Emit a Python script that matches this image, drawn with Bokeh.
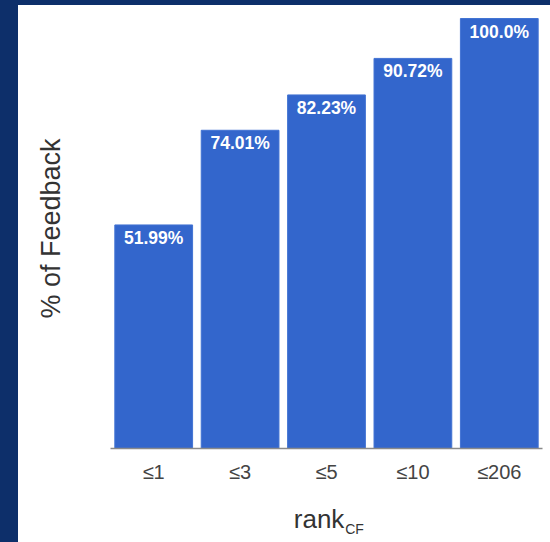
from bokeh.plotting import figure
from bokeh.models import FactorRange, Range1d, Spacer, ColumnDataSource, FixedTicker
from bokeh.layouts import row, column
from bokeh.embed import file_html
from bokeh.resources import INLINE
from bokeh.core.properties import value

categories = ["≤1", "≤3", "≤5", "≤10", "≤206"]
percent = [51.99, 74.01, 82.23, 90.72, 100.0]
bar_labels = ["51.99%", "74.01%", "82.23%", "90.72%", "100.0%"]

NAVY = "#0D2F6A"
BAR = "#3366CC"
FONT = "Liberation Sans"

src = ColumnDataSource(dict(cat=categories, pct=percent, lbl=bar_labels))

# main chart: page y 5..500 ; frame bottom at page 448
p = figure(width=532, height=495,
           x_range=FactorRange(*categories, range_padding=0),
           y_range=Range1d(0, 102.33),
           output_backend="svg", toolbar_location=None,
           min_border_left=92, min_border_right=8,
           min_border_top=3, min_border_bottom=52)

p.vbar(x="cat", top="pct", width=0.9, source=src,
       fill_color=BAR, line_color="#4273D3", line_width=1)

p.text(x="cat", y="pct", text="lbl", source=src,
       text_align="center", text_baseline="top", y_offset=3,
       text_font=value(FONT), text_font_style="bold",
       text_font_size="17.5px", text_color="white")

p.xgrid.visible = False
p.ygrid.visible = False
p.outline_line_color = None
p.background_fill_color = "white"
p.border_fill_color = "white"

xa = p.xaxis[0]
xa.axis_line_color = "#8a8a8a"
xa.axis_line_width = 1.5
xa.major_tick_line_color = None
xa.minor_tick_line_color = None
xa.major_tick_out = 0
xa.major_tick_in = 0
xa.major_label_standoff = 12
xa.major_label_text_font = FONT
xa.major_label_text_font_size = "20px"
xa.major_label_text_color = "#444444"

ya = p.yaxis[0]
ya.ticker = FixedTicker(ticks=[])
ya.axis_line_color = None
ya.major_tick_line_color = None
ya.minor_tick_line_color = None
ya.major_tick_out = 0
ya.major_tick_in = 0
ya.major_label_standoff = 0
ya.axis_label = "% of Feedback"
ya.axis_label_text_font = FONT
ya.axis_label_text_font_style = "normal"
ya.axis_label_text_font_size = "27px"
ya.axis_label_text_color = "#333333"
ya.axis_label_standoff = 45

# x-axis title strip below the chart
title_src = ColumnDataSource(dict(x=[288, 289], y=[24, 14], t=["rank", "CF"],
                                  size=["26px", "14px"], align=["right", "left"]))
p2 = figure(width=532, height=42, x_range=Range1d(0, 532), y_range=Range1d(0, 42),
            x_axis_type=None, y_axis_type=None,
            output_backend="svg", toolbar_location=None,
            min_border_left=0, min_border_right=0, min_border_top=0, min_border_bottom=0)
p2.xgrid.visible = False
p2.ygrid.visible = False
p2.outline_line_color = None
p2.border_fill_color = "white"
p2.background_fill_color = "white"
p2.text(x="x", y="y", text="t", source=title_src, text_font_size="size",
        text_align="align", text_baseline="alphabetic",
        text_font=value(FONT), text_color="#333333")

left_band = Spacer(width=18, height=542, styles={"background-color": NAVY})
top_band = Spacer(width=532, height=5, styles={"background-color": NAVY})
layout = row(left_band, column(top_band, p, p2))

open("out.html", "w").write(file_html(layout, INLINE))
